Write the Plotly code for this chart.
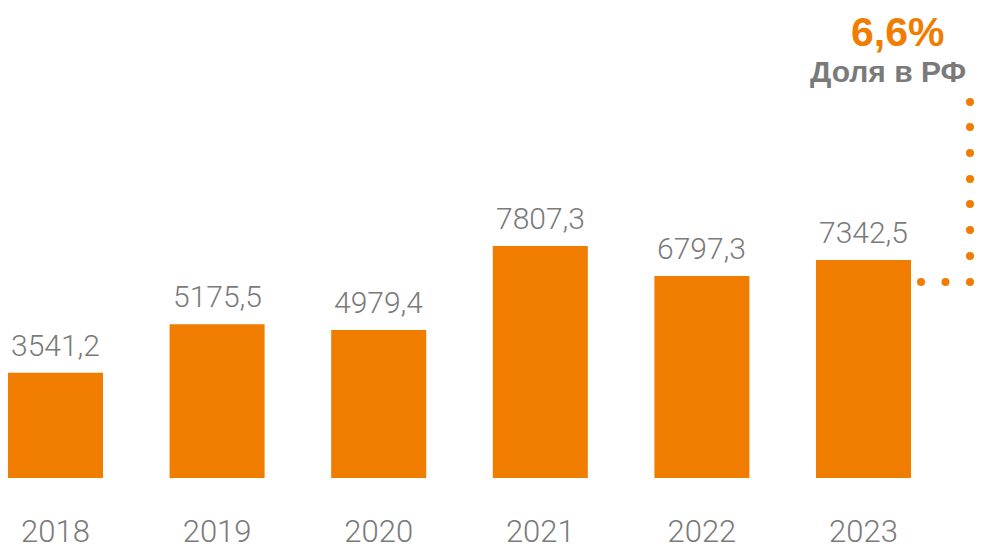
import plotly.graph_objects as go

years = ["2018", "2019", "2020", "2021", "2022", "2023"]
values = [3541.2, 5175.5, 4979.4, 7807.3, 6797.3, 7342.5]
labels = ["3541,2", "5175,5", "4979,4", "7807,3", "6797,3", "7342,5"]
share_value = "6,6%"
share_label = "Доля в РФ"

ORANGE = "#F07D00"
GRAY = "#7a7a7a"
FONT = "Roboto, Liberation Sans, Arial, sans-serif"
BFONT = "Liberation Sans, Arial, sans-serif"
W, H = 983, 557
PLOT_H = 478  # plot area height in px (margin bottom 79)

fig = go.Figure()
fig.add_trace(go.Bar(
    x=list(range(len(years))), y=values,
    marker=dict(color=ORANGE, line=dict(width=0)),
    width=0.588, hoverinfo="skip", showlegend=False,
))

for i, (v, t) in enumerate(zip(values, labels)):
    fig.add_annotation(x=i, y=v, text=t, showarrow=False, xref="x", yref="y",
                       yanchor="bottom", yshift=8,
                       font=dict(family=FONT, size=30, color=GRAY, weight=300))

# dotted connector (decorative), in pixel coordinates of overlay axes
dots_x = [921, 945.5, 970, 970, 970, 970, 970, 970, 970, 970]
dots_y = [282, 282, 282, 256, 230, 204, 179, 153, 127, 102]
fig.add_trace(go.Scatter(
    x=dots_x, y=dots_y, xaxis="x2", yaxis="y2", mode="markers",
    marker=dict(color=ORANGE, size=8, line=dict(width=0)),
    hoverinfo="skip", showlegend=False, cliponaxis=False,
))

fig.add_annotation(x=897 / W, y=(PLOT_H - 32) / PLOT_H, xref="paper", yref="paper",
                   text="<b>%s</b>" % share_value, showarrow=False,
                   xanchor="center", yanchor="middle",
                   font=dict(family=BFONT, size=41, color=ORANGE))
fig.add_annotation(x=968 / W, y=(PLOT_H - 72) / PLOT_H, xref="paper", yref="paper",
                   text="<b>%s</b>" % share_label, showarrow=False,
                   xanchor="right", yanchor="middle",
                   font=dict(family=BFONT, size=30, color=GRAY))

px_per_cat = (863.5 - 55.5) / 5
x0 = -55.5 / px_per_cat
x1 = (W - 55.5) / px_per_cat
scale = 0.0297

fig.update_layout(
    width=W, height=H,
    margin=dict(l=0, r=0, t=0, b=H - PLOT_H),
    paper_bgcolor="white", plot_bgcolor="white",
    bargap=0.412,
    xaxis=dict(range=[x0, x1], tickmode="array", tickvals=list(range(len(years))),
               ticktext=years, showgrid=False, zeroline=False, showline=False,
               ticks="", ticklabelstandoff=32,
               tickfont=dict(family=FONT, size=31, color=GRAY, weight=300),
               fixedrange=True),
    yaxis=dict(range=[0, PLOT_H / scale], showgrid=False, zeroline=False,
               showticklabels=False, showline=False, fixedrange=True),
    xaxis2=dict(overlaying="x", range=[0, W], visible=False, anchor="y2"),
    yaxis2=dict(overlaying="y", range=[PLOT_H, 0], visible=False, anchor="x2"),
)

fig.write_html("out.html", config={"displayModeBar": False, "staticPlot": True},
               post_script="document.body.style.margin='0';document.body.style.overflow='hidden';")
